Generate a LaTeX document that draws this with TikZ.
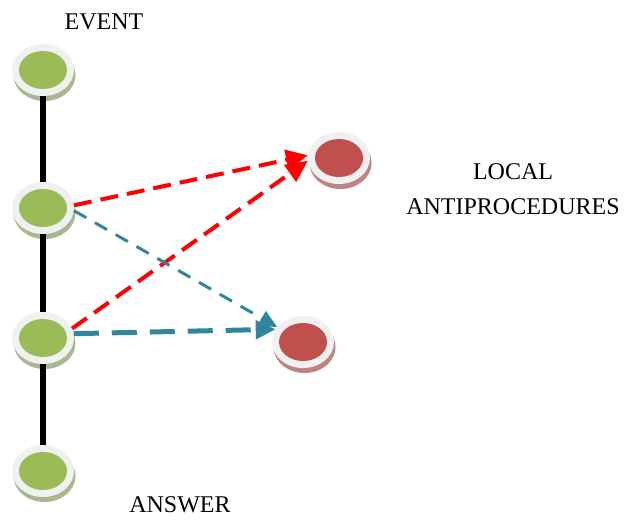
\documentclass[tikz,border=0pt]{standalone}
\usepackage{fontspec}
\setmainfont{Liberation Serif}
\usetikzlibrary{shapes.geometric,arrows.meta}
\definecolor{leafgreen}{HTML}{9BBB59}
\definecolor{brick}{HTML}{C0504D}
\definecolor{ringgray}{HTML}{F0F0F0}
\definecolor{greenshadow}{HTML}{A9B68E}
\definecolor{redshadow}{HTML}{BC8583}
\definecolor{petrol}{HTML}{31859C}

\begin{document}
\begin{tikzpicture}[x=1pt, y=-1pt, font=\fontsize{24}{35}\selectfont,
  evt/.style={ellipse, inner sep=0pt, minimum width=62pt, minimum height=52pt, fill=ringgray,
    preaction={fill=greenshadow, transform canvas={shift={(1.5pt,-5pt)}}},
    path picture={\fill[leafgreen] (path picture bounding box.center) ellipse [x radius=24pt, y radius=19pt];}},
  anti/.style={ellipse, inner sep=0pt, minimum width=62pt, minimum height=52pt, fill=ringgray,
    preaction={fill=redshadow, transform canvas={shift={(1.5pt,-5pt)}}},
    path picture={\fill[brick] (path picture bounding box.center) ellipse [x radius=24pt, y radius=19pt];}},
  spine/.style={line width=6pt, black},
  redarrow/.style={red, line width=4pt, dash pattern=on 18pt off 9pt,
    -{Triangle[length=22pt, width=20pt]}},
  tealthin/.style={petrol, line width=3pt, dash pattern=on 14pt off 10pt,
    -{Triangle[length=18pt, width=16pt]}},
  tealthick/.style={petrol, line width=5pt, dash pattern=on 25pt off 13pt,
    -{Triangle[length=20pt, width=18pt]}}]
  \useasboundingbox (0,0) rectangle (626,520);

  % --- Event chain ---
  \node[evt] (g1) at (43,70) {};
  \node[evt] (g2) at (43,208) {};
  \node[evt] (g3) at (43,338) {};
  \node[evt] (g4) at (43,471) {};
  \draw[spine] (g1.south) -- (g2.north);
  \draw[spine] (g2.south) -- (g3.north);
  \draw[spine] (g3.south) -- (g4.north);

  % --- Local antiprocedures ---
  \node[anti] (r1) at (339,158) {};
  \node[anti] (r2) at (303,342) {};

  % --- Labels ---
  \node[anchor=base] (event) at (104,29) {EVENT};
  \node[anchor=base] (answer) at (180,512) {ANSWER};
  \node[align=center] (local) at (513,189.5) {LOCAL\\ANTIPROCEDURES};

  % --- Calls ---
  \draw[redarrow] (g2.5) -- (r1.175);
  \draw[redarrow] (g3.18) -- (r1.185);
  \draw[tealthin] (g2.-5) -- (r2.150);
  \draw[tealthick] (g3.8) -- (r2.155);
\end{tikzpicture}
\end{document}
